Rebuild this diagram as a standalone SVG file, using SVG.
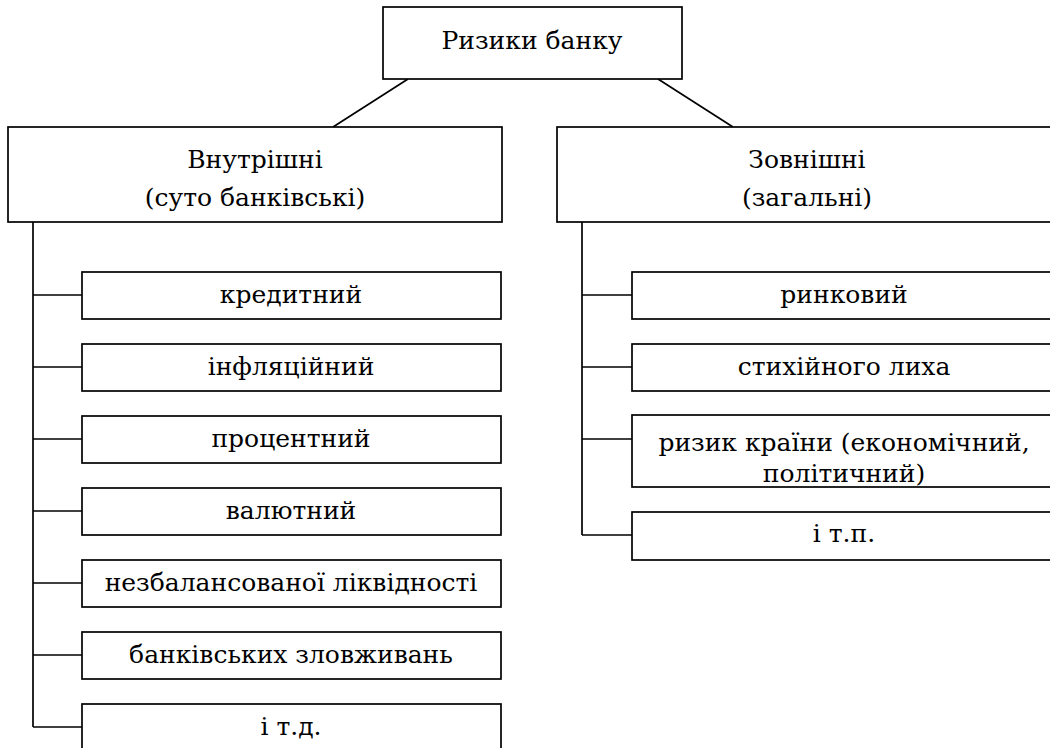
<svg xmlns="http://www.w3.org/2000/svg" width="1050" height="748" viewBox="0 0 1050 748">
<style>
rect{fill:#fff;stroke:#000;stroke-width:1.7}
line{stroke:#000;stroke-width:1.7}
text{font-family:'DejaVu Serif',serif;font-size:25px;fill:#000;text-anchor:middle}
</style>
<rect x="0" y="0" width="1050" height="748" style="stroke:none"/>
<g id="connectors">
<line x1="408" y1="79" x2="333" y2="127"/>
<line x1="658" y1="79" x2="733" y2="127"/>
<line x1="33" y1="222" x2="33" y2="727"/>
<line x1="33" y1="295" x2="82" y2="295"/>
<line x1="33" y1="367" x2="82" y2="367"/>
<line x1="33" y1="439" x2="82" y2="439"/>
<line x1="33" y1="511" x2="82" y2="511"/>
<line x1="33" y1="583" x2="82" y2="583"/>
<line x1="33" y1="655" x2="82" y2="655"/>
<line x1="33" y1="727" x2="82" y2="727"/>
<line x1="582" y1="222" x2="582" y2="535"/>
<line x1="582" y1="295" x2="632" y2="295"/>
<line x1="582" y1="367" x2="632" y2="367"/>
<line x1="582" y1="439" x2="632" y2="439"/>
<line x1="582" y1="535" x2="632" y2="535"/>
</g>
<g id="root"><rect x="383" y="7" width="299" height="72"/><text x="532" y="49">Ризики банку</text></g>
<g id="internal"><rect x="8" y="127" width="494" height="95"/><text x="255" y="168">Внутрішні</text><text x="255" y="206">(суто банківські)</text></g>
<g id="external"><rect x="557" y="127" width="500" height="95"/><text x="807" y="168">Зовнішні</text><text x="807" y="206">(загальні)</text></g>
<g id="n1"><rect x="82" y="272" width="419" height="47"/><text x="291" y="303">кредитний</text></g>
<g id="n2"><rect x="82" y="344" width="419" height="47"/><text x="291" y="375">інфляційний</text></g>
<g id="n3"><rect x="82" y="416" width="419" height="47"/><text x="291" y="447">процентний</text></g>
<g id="n4"><rect x="82" y="488" width="419" height="47"/><text x="291" y="519">валютний</text></g>
<g id="n5"><rect x="82" y="560" width="419" height="47"/><text x="291" y="591">незбалансованої ліквідності</text></g>
<g id="n6"><rect x="82" y="632" width="419" height="47"/><text x="291" y="663">банківських зловживань</text></g>
<g id="n7"><rect x="82" y="704" width="419" height="47"/><text x="291" y="735">і т.д.</text></g>
<g id="e1"><rect x="632" y="272" width="425" height="47"/><text x="844" y="303">ринковий</text></g>
<g id="e2"><rect x="632" y="344" width="425" height="47"/><text x="844" y="375">стихійного лиха</text></g>
<g id="e3"><rect x="632" y="415" width="425" height="72"/><text x="844" y="451">ризик країни (економічний,</text><text x="844" y="482">політичний)</text></g>
<g id="e4"><rect x="632" y="512" width="425" height="48"/><text x="844" y="542">і т.п.</text></g>
</svg>
